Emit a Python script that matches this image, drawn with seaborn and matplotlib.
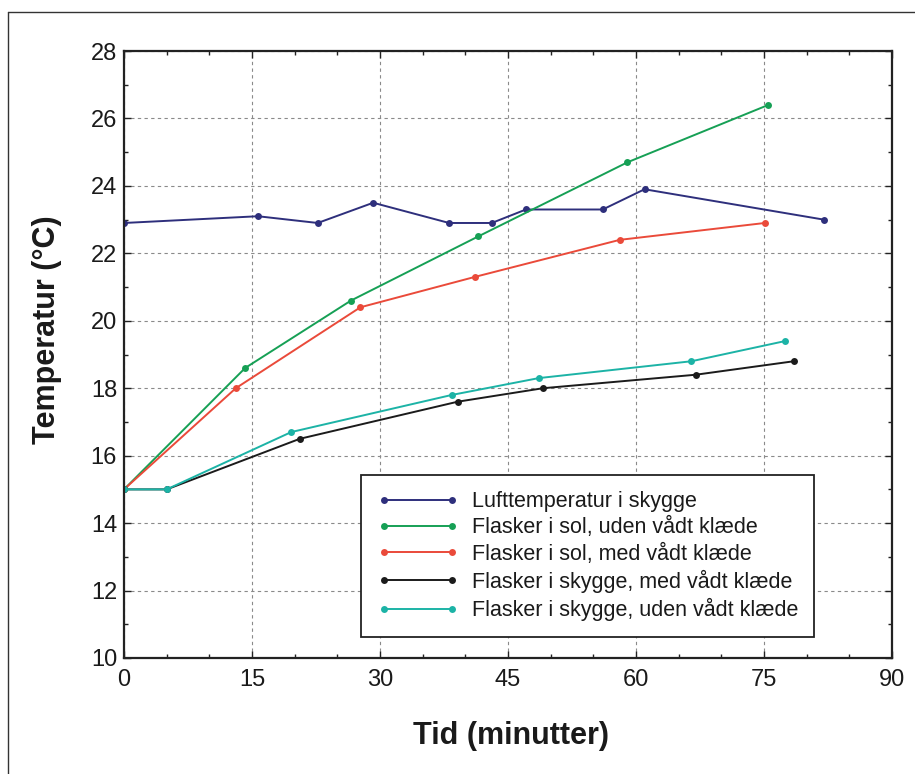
import numpy as np
import pandas as pd
import matplotlib
matplotlib.use("Agg")
import matplotlib.pyplot as plt
from matplotlib.ticker import MultipleLocator
from matplotlib.lines import Line2D
import seaborn as sns

# ---- data ----
series_names = [
    "Lufttemperatur i skygge",
    "Flasker i sol, uden vådt klæde",
    "Flasker i sol, med vådt klæde",
    "Flasker i skygge, med vådt klæde",
    "Flasker i skygge, uden vådt klæde",
]
luft_t = [0, 15.7, 22.7, 29.2, 38.1, 43.1, 47.1, 56.1, 61.0, 82.0]
luft_v = [22.9, 23.1, 22.9, 23.5, 22.9, 22.9, 23.3, 23.3, 23.9, 23.0]
sol_uden_t = [0, 14.2, 26.6, 41.5, 59.0, 75.5]
sol_uden_v = [15.0, 18.6, 20.6, 22.5, 24.7, 26.4]
sol_med_t = [0, 13.1, 27.7, 41.1, 58.1, 75.1]
sol_med_v = [15.0, 18.0, 20.4, 21.3, 22.4, 22.9]
skygge_med_t = [0, 5, 20.6, 39.1, 49.1, 67.0, 78.5]
skygge_med_v = [15.0, 15.0, 16.5, 17.6, 18.0, 18.4, 18.8]
skygge_uden_t = [0, 5, 19.6, 38.4, 48.6, 66.5, 77.5]
skygge_uden_v = [15.0, 15.0, 16.7, 17.8, 18.3, 18.8, 19.4]

x_ticks = [0, 15, 30, 45, 60, 75, 90]
y_ticks = [10, 12, 14, 16, 18, 20, 22, 24, 26, 28]
x_label = "Tid (minutter)"
y_label = "Temperatur (°C)"

colors = ["#2e2f7c", "#16a055", "#ea4a3a", "#1b1b1b", "#1cb3a6"]

times = [luft_t, sol_uden_t, sol_med_t, skygge_med_t, skygge_uden_t]
values = [luft_v, sol_uden_v, sol_med_v, skygge_med_v, skygge_uden_v]

# ---- styling ----
sns.set_theme(style="ticks")
plt.rcParams["font.family"] = ["Liberation Sans", "DejaVu Sans"]

fig = plt.figure(figsize=(9.15, 7.74), dpi=100)
W, H = 915, 774
ax = fig.add_axes([124 / W, 1 - 658 / H, (892 - 124) / W, (658 - 51) / H])

for name, t, v, c in zip(series_names, times, values, colors):
    df = pd.DataFrame({"Tid": t, "Temp": v})
    sns.lineplot(data=df, x="Tid", y="Temp", ax=ax, color=c, marker="o",
                 markersize=5, markeredgewidth=0, linewidth=1.4,
                 sort=False, estimator=None, label=name, legend=False)

ax.set_xlim(0, 90)
ax.set_ylim(10, 28)
ax.set_xticks(x_ticks)
ax.set_yticks(y_ticks)
ax.xaxis.set_minor_locator(MultipleLocator(5))
ax.yaxis.set_minor_locator(MultipleLocator(1))
ax.tick_params(which="both", direction="in", top=True, right=True,
               color="#222222")
ax.tick_params(which="major", length=5, width=1.0, labelsize=17,
               labelcolor="#1a1a1a")
ax.tick_params(axis="x", which="major", pad=8)
ax.tick_params(axis="y", which="major", pad=5)
ax.tick_params(which="minor", length=3, width=1.0)
ax.grid(True, which="major", linestyle=(0, (3, 3)), color="#8a8a8a",
        linewidth=0.8)
for s in ax.spines.values():
    s.set_linewidth(1.6)
    s.set_color("#222222")

ax.set_xlabel(x_label, fontsize=22, fontweight="bold", color="#1a1a1a",
              va="center")
ax.set_ylabel(y_label, fontsize=22, fontweight="bold", color="#1a1a1a",
              va="center")
ax.xaxis.set_label_coords((511 - 124) / 768, -(736 - 658) / 607)
ax.yaxis.set_label_coords((47 - 124) / 768, (658 - 330) / 607)

handles, labels = ax.get_legend_handles_labels()
leg = ax.legend(handles, labels, loc="upper left",
                bbox_to_anchor=((361 - 124) / 768, (658 - 475) / 607),
                borderaxespad=0, fontsize=15.5, numpoints=2,
                handlelength=3.8, handletextpad=0.6, labelspacing=0.24,
                borderpad=0.75, fancybox=False, framealpha=1,
                edgecolor="#222222")
leg.get_frame().set_linewidth(1.3)
for txt in leg.get_texts():
    txt.set_color("#1a1a1a")

# thin frame of the scanned figure (top and left edges visible)
fig.add_artist(Line2D([8 / W, 1.0], [1 - 12 / H, 1 - 12 / H],
                      transform=fig.transFigure, color="#333333", lw=1.0))
fig.add_artist(Line2D([8 / W, 8 / W], [0.0, 1 - 12 / H],
                      transform=fig.transFigure, color="#333333", lw=1.0))

fig.savefig("out.png", dpi=100)
